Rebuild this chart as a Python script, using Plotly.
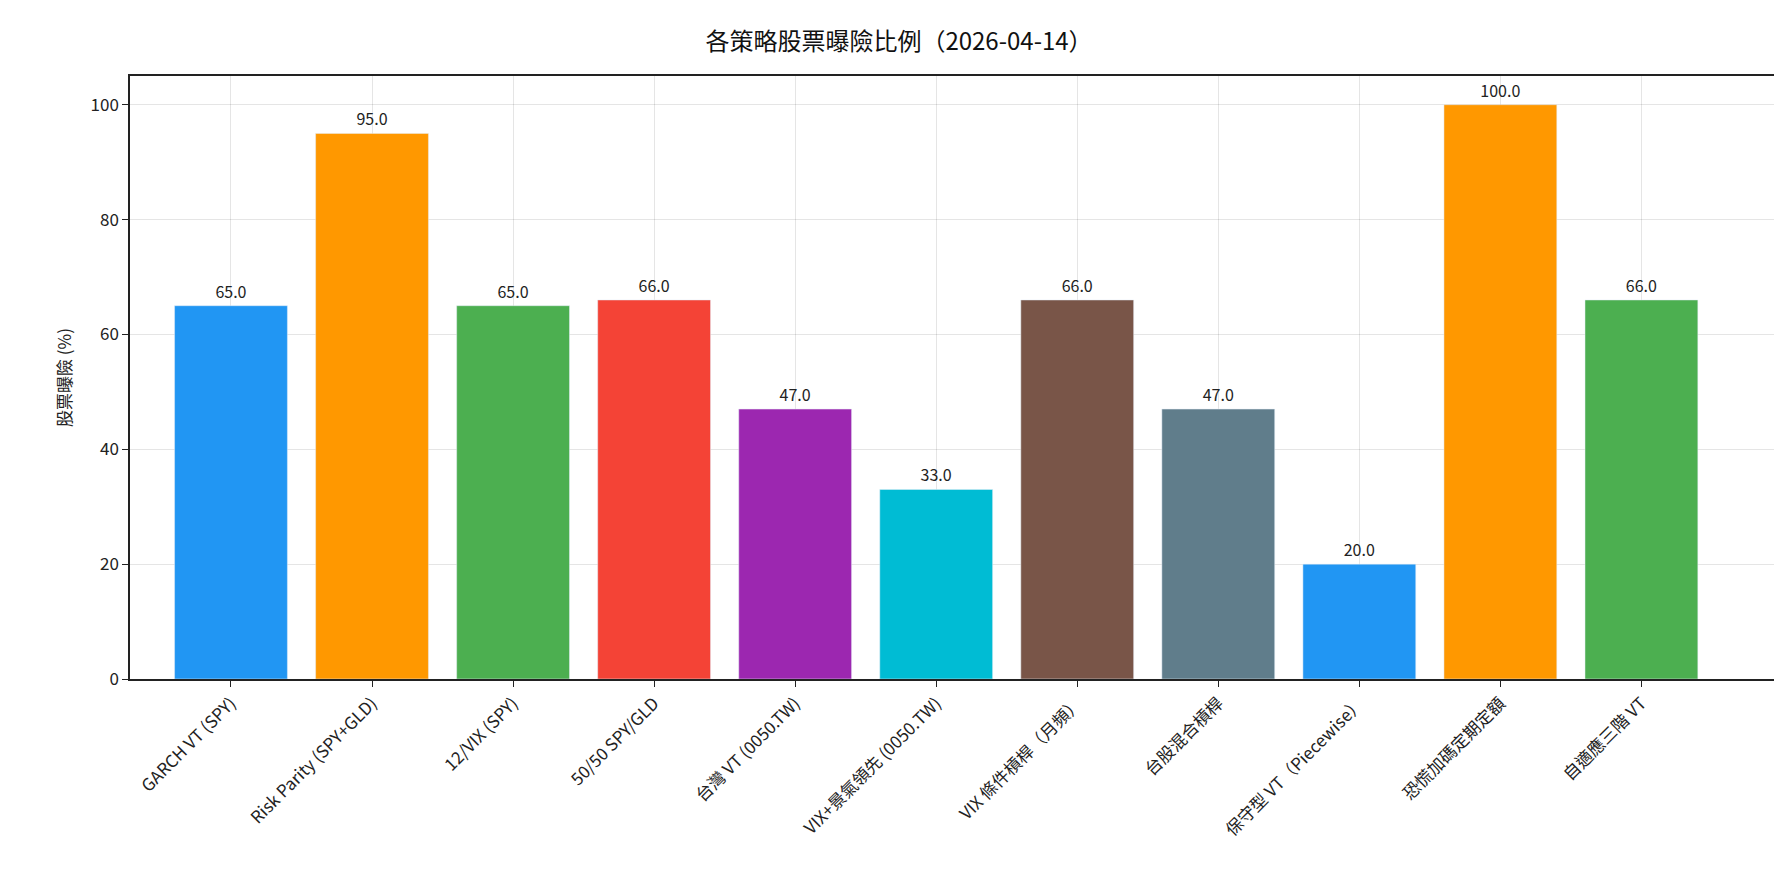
import plotly.graph_objects as go

categories = ["GARCH VT (SPY)", "Risk Parity (SPY+GLD)", "12/VIX (SPY)", "50/50 SPY/GLD",
              "台灣 VT (0050.TW)", "VIX+景氣領先 (0050.TW)", "VIX 條件槓桿（月頻）", "台股混合槓桿",
              "保守型 VT（Piecewise）", "恐慌加碼定期定額", "自適應三階 VT"]
values = [65, 95, 65, 66, 47, 33, 66, 47, 20, 100, 66]
colors = ["#2196F3", "#FF9800", "#4CAF50", "#F44336", "#9C27B0", "#00BCD4",
          "#795548", "#607D8B", "#2196F3", "#FF9800", "#4CAF50"]

font = "Noto Sans CJK TC"
x = list(range(len(categories)))
fig = go.Figure(go.Bar(x=x, y=values, marker_color=colors, width=0.8,
                       text=[f"{v:.1f}" for v in values], textposition="outside",
                       textfont=dict(size=16, color="#222"), cliponaxis=False))
fig.update_layout(
    width=1782, height=884, plot_bgcolor="white", paper_bgcolor="white",
    margin=dict(l=122, r=16, t=68, b=213),
    font=dict(family=font, color="#222"),
    title=dict(text="各策略股票曝險比例（2026-04-14）", x=0.5, xanchor="center", y=0.972,
               font=dict(size=24, color="#111")),
    showlegend=False, bargap=0.2,
)
fig.update_xaxes(range=[-0.716, 10.94], tickvals=x, ticktext=categories, tickangle=-45,
                 tickfont=dict(size=17), showline=True, linecolor="#222", linewidth=1.5, mirror=True,
                 ticks="outside", ticklen=6, tickcolor="#222",
                 showgrid=True, gridcolor="rgba(0,0,0,0.1)")
fig.update_yaxes(range=[0, 105], tickvals=[0, 20, 40, 60, 80, 100], tickfont=dict(size=17),
                 title=dict(text="股票曝險 (%)", font=dict(size=17)),
                 showline=True, linecolor="#222", linewidth=1.5, mirror=True,
                 ticks="outside", ticklen=6, tickcolor="#222",
                 showgrid=True, gridcolor="rgba(0,0,0,0.1)", zeroline=False)
fig.write_html("out.html")
